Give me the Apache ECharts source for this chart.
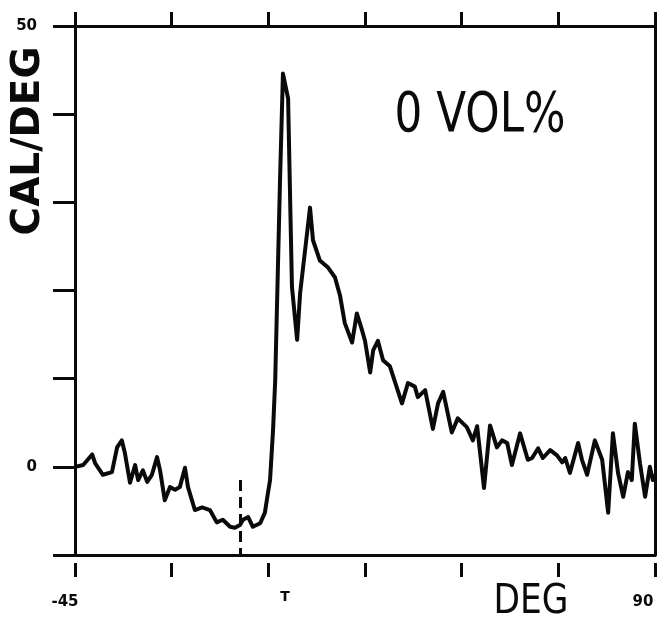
<!DOCTYPE html>
<html>
<head>
<meta charset="utf-8">
<script src="https://cdn.jsdelivr.net/npm/echarts@6/dist/echarts.min.js"></script>
<style>
  html, body { margin: 0; padding: 0; background: #fff; }
  #chart { width: 671px; height: 623px; }
</style>
</head>
<body>
<div id="chart"></div>
<script>
// angle (DEG) and heat flow (CAL/DEG)
var degs = [
  -45, -43.1, -41.0, -40.3, -38.5, -36.4, -35.2, -34.1, -33.4, -32.2,
  -31.0, -30.3, -29.2, -28.2, -27.1, -25.9, -25.2, -24.1, -22.9, -21.7,
  -20.6, -19.4, -18.7, -17.1, -15.4, -13.6, -12.0, -10.6, -8.9, -7.8,
  -6.6, -5.9, -4.7, -3.6, -1.9, -0.8, -0.1, 0.4, 1.1, 1.6,
  2.7, 3.4, 4.6, 5.0, 5.5, 6.7, 7.4, 9.7, 10.4, 12.0,
  13.9, 15.5, 16.7, 17.8, 19.5, 20.6, 21.8, 22.5, 23.7, 24.4,
  25.5, 26.7, 28.3, 31.1, 32.5, 34.1, 34.8, 36.5, 38.3, 39.5,
  40.7, 42.7, 44.1, 46.2, 47.6, 48.6, 50.2, 51.6, 53.2, 54.4,
  55.6, 56.7, 58.6, 60.4, 61.4, 62.8, 63.9, 65.6, 67.2, 68.4,
  69.1, 70.2, 72.1, 73.0, 74.2, 76.0, 77.7, 79.1, 80.2, 81.4,
  82.6, 83.7, 84.6, 85.3, 86.5, 87.7, 88.8, 89.5, 90
];
var calPerDeg = [
  0, 0.2, 1.4, 0.4, -0.9, -0.6, 2.2, 3.0, 1.6, -1.8,
  0.2, -1.5, -0.4, -1.7, -0.9, 1.1, -0.4, -3.8, -2.3, -2.6,
  -2.3, -0.1, -2.3, -4.9, -4.6, -4.9, -6.3, -6.0, -6.8, -6.9,
  -6.6, -6.0, -5.7, -6.8, -6.4, -5.2, -3.0, -1.5, 4.2, 9.8,
  32.1, 44.6, 41.8, 32.1, 20.4, 14.4, 19.7, 29.4, 25.7, 23.4,
  22.6, 21.5, 19.4, 16.3, 14.1, 17.4, 15.5, 14.3, 10.7, 13.2,
  14.3, 12.1, 11.4, 7.2, 9.5, 9.1, 7.9, 8.7, 4.3, 7.2,
  8.5, 3.9, 5.5, 4.5, 3.0, 4.6, -2.4, 4.7, 2.2, 3.0,
  2.7, 0.2, 3.8, 0.8, 1.0, 2.1, 1.0, 1.9, 1.3, 0.5,
  1.0, -0.7, 2.7, 0.8, -0.9, 3.0, 0.8, -5.2, 3.8, -0.7,
  -3.4, -0.6, -1.5, 4.9, 0.4, -3.4, 0, -1.5, -0.9
];
var xTickLabels = ['-45', '90'];
var yTickLabels = ['0', '50'];
var tMark = -6.5;          // dashed marker position
var tMarkTop = -1.5;

var ink = '#0a0a0a';
var chart = echarts.init(document.getElementById('chart'));

var lineData = degs.map(function (d, i) { return [d, calPerDeg[i]]; });

var tickFont = { color: ink, fontSize: 15, fontWeight: 'bold', fontFamily: 'DejaVu Sans' };

chart.setOption({
  backgroundColor: '#fff',
  animation: false,
  grid: { left: 75, right: 16, top: 26, bottom: 68 },
  xAxis: [
    {
      // frame line at bottom
      type: 'value', min: -45, max: 90, interval: 22.5, position: 'bottom',
      axisLine: { onZero: false, lineStyle: { color: ink, width: 3 } },
      axisTick: { show: false }, axisLabel: { show: false }, splitLine: { show: false }
    },
    {
      // ticks hang below the line with a gap
      type: 'value', min: -45, max: 90, interval: 22.5, position: 'bottom', offset: 8,
      axisLine: { show: false, onZero: false },
      axisTick: { show: true, length: 14, lineStyle: { color: ink, width: 3 } },
      axisLabel: Object.assign({
        margin: 32,
        formatter: function (v) {
          var s = String(v);
          if (s === xTickLabels[0]) return '{a|' + s + '}';
          if (s === xTickLabels[1]) return '{b|' + s + '}';
          return '';
        },
        rich: {
          a: { padding: [0, 20, 0, 0] },
          b: { padding: [0, 24, 0, 0] }
        }
      }, tickFont),
      splitLine: { show: false }
    },
    {
      type: 'value', min: -45, max: 90, interval: 22.5, position: 'top',
      axisLine: { onZero: false, lineStyle: { color: ink, width: 3 } },
      axisTick: { show: true, length: 14, lineStyle: { color: ink, width: 3 } },
      axisLabel: { show: false }, splitLine: { show: false }
    }
  ],
  yAxis: [
    {
      type: 'value', min: -10, max: 50, interval: 10, position: 'left',
      axisLine: { onZero: false, lineStyle: { color: ink, width: 3 } },
      axisTick: { show: true, length: 22, lineStyle: { color: ink, width: 3 } },
      axisLabel: Object.assign({
        margin: 38,
        formatter: function (v) {
          var s = String(v);
          return yTickLabels.indexOf(s) >= 0 ? s : '';
        }
      }, tickFont),
      splitLine: { show: false }
    },
    {
      type: 'value', min: -10, max: 50, interval: 10, position: 'right',
      axisLine: { onZero: false, lineStyle: { color: ink, width: 3 } },
      axisTick: { show: false }, axisLabel: { show: false }, splitLine: { show: false }
    }
  ],
  series: [
    {
      type: 'line',
      xAxisIndex: 0,
      yAxisIndex: 0,
      data: lineData,
      showSymbol: false,
      lineStyle: { color: ink, width: 4, join: 'round' },
      markLine: {
        silent: true,
        symbol: 'none',
        label: { show: false },
        lineStyle: { color: ink, width: 3, type: [11, 6] },
        data: [[{ coord: [tMark, tMarkTop] }, { coord: [tMark, -10] }]]
      }
    }
  ],
  graphic: [
    {
      type: 'text', x: 29, y: 141, rotation: Math.PI / 2,
      style: {
        text: 'CAL/DEG', fill: ink, font: 'bold 39px "DejaVu Sans", sans-serif',
        textAlign: 'center', textVerticalAlign: 'middle'
      }
    },
    {
      type: 'text', x: 480, y: 116, scaleX: 0.78,
      style: {
        text: '0 VOL%', fill: ink, font: '56px "DejaVu Sans", sans-serif',
        textAlign: 'center', textVerticalAlign: 'middle'
      }
    },
    {
      type: 'text', x: 531, y: 603, scaleX: 0.86,
      style: {
        text: 'DEG', fill: ink, font: '40px "DejaVu Sans", sans-serif',
        textAlign: 'center', textVerticalAlign: 'middle'
      }
    },
    {
      type: 'text', x: 285, y: 597,
      style: {
        text: 'T', fill: ink, font: 'bold 14px "DejaVu Sans", sans-serif',
        textAlign: 'center', textVerticalAlign: 'middle'
      }
    }
  ]
});
</script>
</body>
</html>
